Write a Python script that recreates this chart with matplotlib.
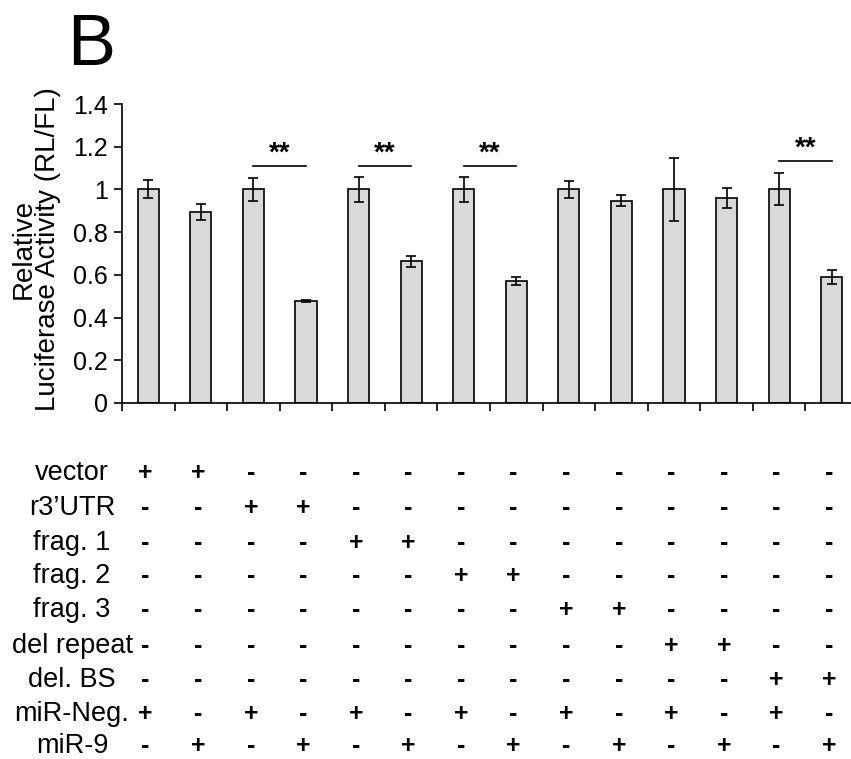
import numpy as np
import matplotlib
matplotlib.use("Agg")
import matplotlib.pyplot as plt
import matplotlib.transforms as mtransforms

plt.rcParams["font.family"] = ["Liberation Sans", "DejaVu Sans"]

# valori
values = [1.0, 0.893, 1.0, 0.479, 1.0, 0.663, 1.0, 0.572, 1.0, 0.948, 1.0, 0.960, 1.0, 0.592]
errors = [0.042, 0.037, 0.052, 0.005, 0.060, 0.025, 0.060, 0.018, 0.040, 0.026, 0.147, 0.045, 0.075, 0.033]

# coppie significative (indice barre) e altezza della linea
sig_pairs = [(2, 3), (4, 5), (6, 7), (12, 13)]
sig_heights = [1.111, 1.111, 1.111, 1.133]

row_labels = ["vector", "r3\u2019UTR", "frag. 1", "frag. 2", "frag. 3",
              "del repeat", "del. BS", "miR-Neg.", "miR-9"]
construct_of_bar = [0, 0, 1, 1, 2, 2, 3, 3, 4, 4, 5, 5, 6, 6]
mir_of_bar = ["neg", "9"] * 7

y_ticks = [0, 0.2, 0.4, 0.6, 0.8, 1.0, 1.2, 1.4]
y_tick_labels = ["0", "0.2", "0.4", "0.6", "0.8", "1", "1.2", "1.4"]

W, H = 851, 759
fig = plt.figure(figsize=(W / 100, H / 100), dpi=100)

n = len(values)
ax = fig.add_axes([122 / W, 1 - 403 / H, 736 / W, 299 / H])
x = np.arange(n) + 0.5
ax.bar(x, values, width=0.4, color="#d9d9d9", edgecolor="black", linewidth=1.2, zorder=2)
ax.errorbar(x, values, yerr=errors, fmt="none", ecolor="black", elinewidth=1.2,
            capsize=3.5, capthick=1.2, zorder=3)

ax.set_xlim(0, n)
ax.set_ylim(0, 1.4)
ax.set_yticks(y_ticks)
ax.set_yticklabels(y_tick_labels, fontsize=18)
ax.set_xticks(np.arange(n))
ax.set_xticklabels([])
ax.tick_params(axis="both", direction="out", length=6, width=1.2)
ax.tick_params(axis="y", pad=4)
for s in ["top", "right"]:
    ax.spines[s].set_visible(False)
for s in ["left", "bottom"]:
    ax.spines[s].set_linewidth(1.2)

# asterischi di significativita'
for (a, b), h in zip(sig_pairs, sig_heights):
    ax.plot([x[a], x[b]], [h, h], color="black", linewidth=1.2, clip_on=False)
    ax.text((x[a] + x[b]) / 2, h - 0.005, "**", ha="center", va="bottom",
            fontsize=20, fontweight="bold")

fig.text(36 / W, 1 - 249 / H, "Relative\nLuciferase Activity (RL/FL)", rotation=90,
         ha="center", va="center", fontsize=20, linespacing=0.92)

fig.text(67 / W, 1 - 65 / H, "B", fontsize=52, ha="left", va="baseline",
         family=["Liberation Sans Narrow", "Liberation Sans"])

# tabella +/- sotto il grafico
trans = mtransforms.blended_transform_factory(ax.transData, fig.transFigure)
row_y = [473, 508, 543, 576, 610, 646, 680, 714, 746]
for r, (lab, yp) in enumerate(zip(row_labels, row_y)):
    fig.text(72 / W, 1 - yp / H, lab, ha="center", va="center", fontsize=19.5)
    for i in range(n):
        if r < 7:
            on = construct_of_bar[i] == r
        elif r == 7:
            on = mir_of_bar[i] == "neg"
        else:
            on = mir_of_bar[i] == "9"
        ax.text(x[i] - 0.05, 1 - yp / H, "+" if on else "-", transform=trans,
                ha="center", va="center", fontsize=18, fontweight="bold",
                clip_on=False)

fig.savefig("out.png", dpi=100)
